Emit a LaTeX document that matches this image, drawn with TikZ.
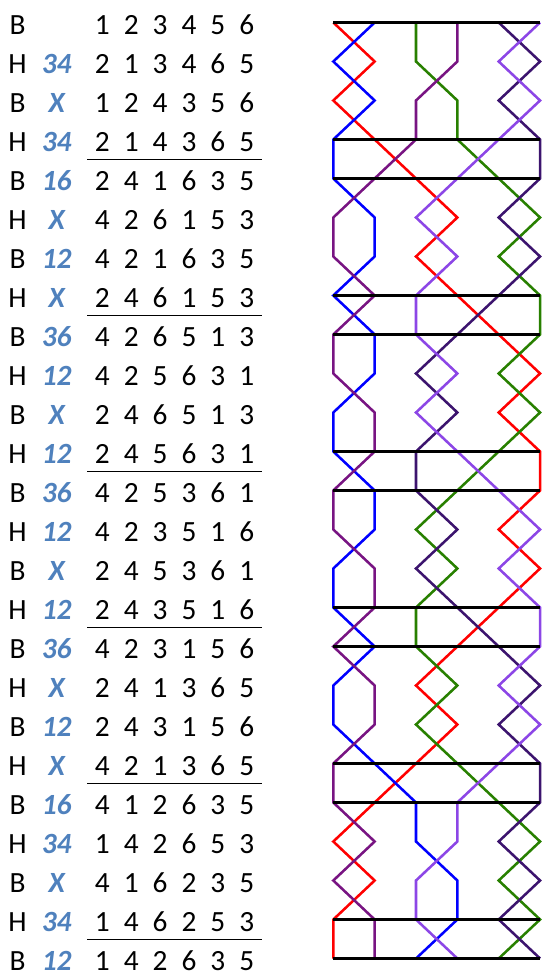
\documentclass[tikz,border=0pt]{standalone}
\usepackage{fontspec}
\setmainfont{Carlito}
\usepackage{tikz}
\definecolor{labelblue}{RGB}{79,129,189}
\definecolor{bellone}{RGB}{255,0,0}
\definecolor{belltwo}{RGB}{0,0,255}
\definecolor{bellthree}{RGB}{40,128,0}
\definecolor{bellfour}{RGB}{120,20,130}
\definecolor{bellfive}{RGB}{60,20,110}
\definecolor{bellsix}{RGB}{140,70,230}

\begin{document}
\begin{tikzpicture}[x=0.75pt, y=-0.75pt,
    cell/.style={anchor=base, inner sep=0pt, font=\fontsize{22}{26}\selectfont},
    notation/.style={cell, font=\fontsize{22}{26}\selectfont\bfseries\itshape, text=labelblue},
    rope/.style={line width=1.9pt, draw=#1},
    lead/.style={line width=1.6pt, draw=black}]
    \useasboundingbox (0,0) rectangle (551,980);

    % Grid points of the diagram
    \foreach \r in {0,...,24}
        \foreach \p in {1,...,6}
            \coordinate (g-\r-\p) at ({333.3+41.35*(\p-1)}, {22.5+39*\r});

    % Rows of the table
    \foreach \hb/\pn/\perm [count=\r from 0] in {
        B/{}/{1,2,3,4,5,6}, H/34/{2,1,3,4,6,5}, B/X/{1,2,4,3,5,6}, H/34/{2,1,4,3,6,5},
        B/16/{2,4,1,6,3,5}, H/X/{4,2,6,1,5,3}, B/12/{4,2,1,6,3,5}, H/X/{2,4,6,1,5,3},
        B/36/{4,2,6,5,1,3}, H/12/{4,2,5,6,3,1}, B/X/{2,4,6,5,1,3}, H/12/{2,4,5,6,3,1},
        B/36/{4,2,5,3,6,1}, H/12/{4,2,3,5,1,6}, B/X/{2,4,5,3,6,1}, H/12/{2,4,3,5,1,6},
        B/36/{4,2,3,1,5,6}, H/X/{2,4,1,3,6,5}, B/12/{2,4,3,1,5,6}, H/X/{4,2,1,3,6,5},
        B/16/{4,1,2,6,3,5}, H/34/{1,4,2,6,5,3}, B/X/{4,1,6,2,3,5}, H/34/{1,4,6,2,5,3},
        B/12/{1,4,2,6,3,5}} {
        \node[cell] (hb-\r) at (17.5, {34.9+39*\r}) {\hb};
        \node[notation] (pn-\r) at (56.7, {34.9+39*\r}) {\pn};
        \foreach \d [count=\i] in \perm
            \node[cell] (d-\r-\i) at ({102.3+28.9*(\i-1)}, {34.9+39*\r}) {\d};
    }

    % Lead end rules under the table
    \foreach \k in {0,...,5}
        \draw[line width=0.9pt] (87.3, {159.3+156*\k}) -- (261.7, {159.3+156*\k});

    % Path of each bell
    \foreach \clr/\places [count=\b] in {
        bellone/{2,1,2,3,4,3,4,5,6,5,6,6,5,6,5,4,3,4,3,2,1,2,1,1},
        belltwo/{1,2,1,1,2,2,1,2,2,1,1,2,2,1,1,2,1,1,2,3,3,4,4,3},
        bellthree/{3,4,4,5,6,5,6,6,5,6,5,4,3,4,3,3,4,3,4,5,6,5,6,5},
        bellfour/{4,3,3,2,1,1,2,1,1,2,2,1,1,2,2,1,2,2,1,1,2,1,2,2},
        bellfive/{6,5,6,6,5,6,5,4,3,4,3,3,4,3,4,5,6,5,6,6,5,6,5,6},
        bellsix/{5,6,5,4,3,4,3,3,4,3,4,5,6,5,6,6,5,6,5,4,4,3,3,4}}
        \draw[rope=\clr] (g-0-\b) \foreach \p [count=\r] in \places { -- (g-\r-\p) };

    % Horizontal rules of the diagram
    \foreach \r in {0,3,4,7,8,11,12,15,16,19,20,23,24}
        \draw[lead] (g-\r-1) -- (g-\r-6);
\end{tikzpicture}
\end{document}
